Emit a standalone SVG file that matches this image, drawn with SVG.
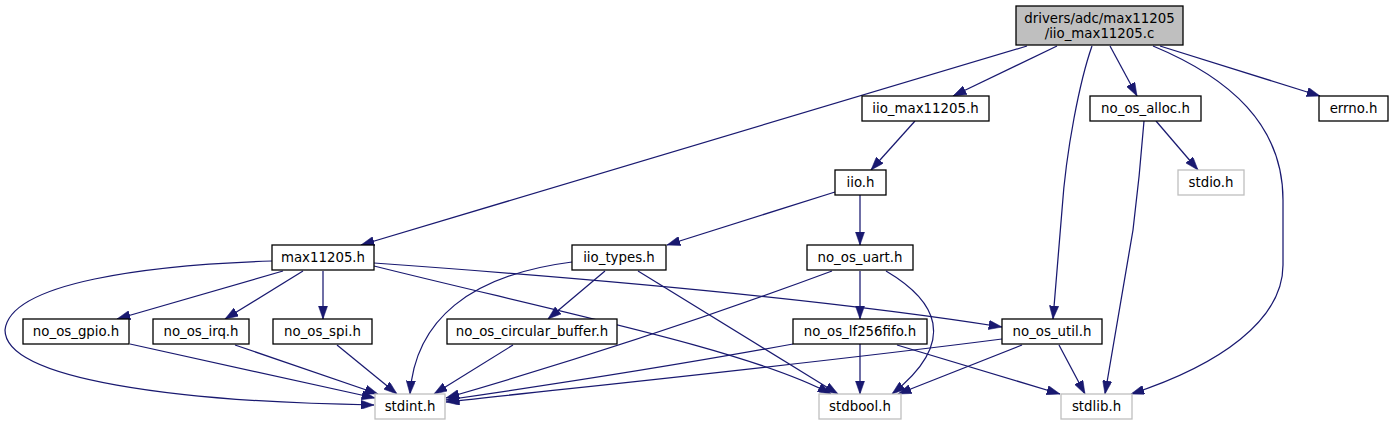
<svg xmlns="http://www.w3.org/2000/svg" width="1393" height="425" viewBox="0 0 1393 425">
<style>
  .n rect { fill: #ffffff; stroke: #000000; stroke-width: 1.3; }
  .n.x rect { stroke: #bfbfbf; }
  .n.root rect { fill: #bfbfbf; }
  .n text { font-family: "DejaVu Sans", "Liberation Sans", sans-serif; font-size: 13.33px; fill: #000000; text-anchor: middle; }
  .e path { fill: none; stroke: #191970; stroke-width: 1.25; marker-end: url(#arr); }
</style>
<defs>
  <marker id="arr" viewBox="0 0 10 7" refX="10" refY="3.5" markerWidth="13.3" markerHeight="9.3" orient="auto" markerUnits="userSpaceOnUse">
    <path d="M0,0 L10,3.5 L0,7 z" fill="#191970" stroke="#191970" stroke-width="0.4"/>
  </marker>
</defs>
<rect width="1393" height="425" fill="#ffffff"/>
<g id="edges" class="e">
  <path d="M1027,46 L361,245"/>
  <path d="M1057,46 L953,96"/>
  <path d="M1092,46 C1080,80 1066,150 1062,210 L1053,319"/>
  <path d="M1110,46 L1137,96"/>
  <path d="M1153,46 C1230,78 1283,125 1283,200 L1283,265 C1283,320 1220,365 1131,394"/>
  <path d="M1160,46 L1320,96"/>
  <path d="M915,121 L871,170"/>
  <path d="M1156,121 L1198,170"/>
  <path d="M1144,121 C1141,160 1138,190 1133,230 L1105,394"/>
  <path d="M835,192 L667,245"/>
  <path d="M860,195 L860,245"/>
  <path d="M272,261 C150,265 10,282 5,330 C5,380 180,402 374,405"/>
  <path d="M283,271 L117,319"/>
  <path d="M303,271 L225,319"/>
  <path d="M323,271 L323,319"/>
  <path d="M374,263 C500,272 800,295 1002,327"/>
  <path d="M374,266 C550,310 750,350 831,394"/>
  <path d="M572,262 C470,275 415,320 410,394"/>
  <path d="M605,271 L548,319"/>
  <path d="M638,271 L838,394"/>
  <path d="M832,271 C700,320 560,365 446,398"/>
  <path d="M860,271 L860,319"/>
  <path d="M886,271 C935,300 960,340 892,394"/>
  <path d="M513,345 L434,394"/>
  <path d="M130,344 L375,398"/>
  <path d="M235,345 L378,394"/>
  <path d="M337,345 L397,394"/>
  <path d="M793,344 C650,370 550,385 446,400"/>
  <path d="M860,344 L860,394"/>
  <path d="M897,345 L1060,394"/>
  <path d="M1002,339 C800,365 600,385 446,402"/>
  <path d="M1022,345 L898,394"/>
  <path d="M1059,345 L1085,394"/>
</g>
<g id="node-root" class="n root">
  <rect x="1016" y="6" width="167" height="39"/>
  <text x="1099.5" y="23">drivers/adc/max11205</text>
  <text x="1099.5" y="38">/iio_max11205.c</text>
</g>
<g id="node-iio_max11205_h" class="n">
  <rect x="862" y="96" width="127" height="25"/>
  <text x="925.5" y="113">iio_max11205.h</text>
</g>
<g id="node-no_os_alloc_h" class="n">
  <rect x="1090" y="96" width="111" height="25"/>
  <text x="1145.5" y="113">no_os_alloc.h</text>
</g>
<g id="node-errno_h" class="n">
  <rect x="1319" y="96" width="69" height="25"/>
  <text x="1353.5" y="113">errno.h</text>
</g>
<g id="node-iio_h" class="n">
  <rect x="835" y="170" width="51" height="25"/>
  <text x="860.5" y="187">iio.h</text>
</g>
<g id="node-stdio_h" class="n x">
  <rect x="1178" y="170" width="66" height="25"/>
  <text x="1211" y="187">stdio.h</text>
</g>
<g id="node-max11205_h" class="n">
  <rect x="272" y="245" width="102" height="25"/>
  <text x="323" y="262">max11205.h</text>
</g>
<g id="node-iio_types_h" class="n">
  <rect x="572" y="245" width="94" height="25"/>
  <text x="619" y="262">iio_types.h</text>
</g>
<g id="node-no_os_uart_h" class="n">
  <rect x="807" y="245" width="106" height="25"/>
  <text x="860" y="262">no_os_uart.h</text>
</g>
<g id="node-no_os_gpio_h" class="n">
  <rect x="23" y="319" width="106" height="25"/>
  <text x="76" y="336">no_os_gpio.h</text>
</g>
<g id="node-no_os_irq_h" class="n">
  <rect x="153" y="319" width="96" height="25"/>
  <text x="201" y="336">no_os_irq.h</text>
</g>
<g id="node-no_os_spi_h" class="n">
  <rect x="273" y="319" width="99" height="25"/>
  <text x="322.5" y="336">no_os_spi.h</text>
</g>
<g id="node-no_os_circular_buffer_h" class="n">
  <rect x="447" y="319" width="170" height="25"/>
  <text x="532" y="336">no_os_circular_buffer.h</text>
</g>
<g id="node-no_os_lf256fifo_h" class="n">
  <rect x="793" y="319" width="134" height="25"/>
  <text x="860" y="336">no_os_lf256fifo.h</text>
</g>
<g id="node-no_os_util_h" class="n">
  <rect x="1002" y="319" width="100" height="25"/>
  <text x="1052" y="336">no_os_util.h</text>
</g>
<g id="node-stdint_h" class="n x">
  <rect x="375" y="394" width="70" height="25"/>
  <text x="410" y="411">stdint.h</text>
</g>
<g id="node-stdbool_h" class="n x">
  <rect x="819" y="394" width="82" height="25"/>
  <text x="860" y="411">stdbool.h</text>
</g>
<g id="node-stdlib_h" class="n x">
  <rect x="1061" y="394" width="71" height="25"/>
  <text x="1096.5" y="411">stdlib.h</text>
</g>
</svg>
